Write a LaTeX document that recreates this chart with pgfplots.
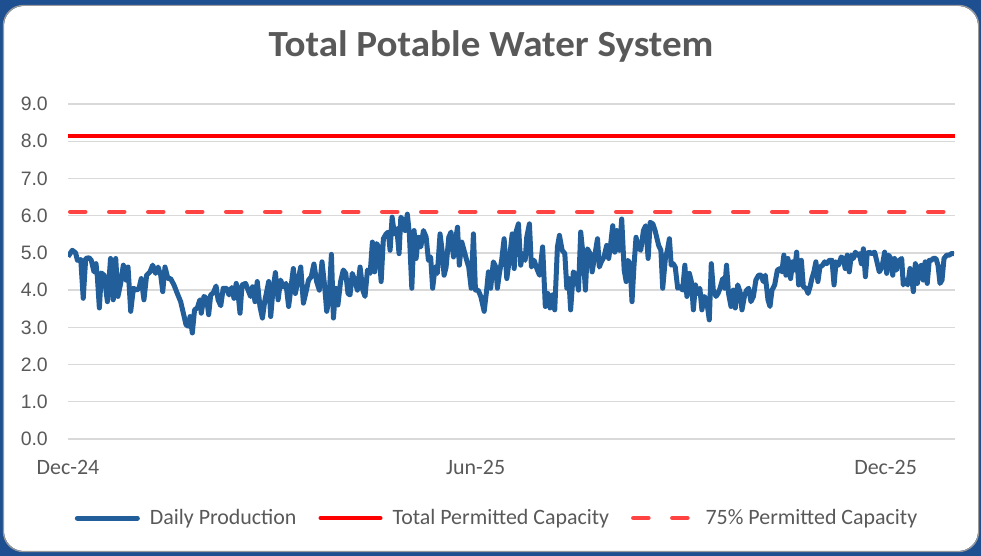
\documentclass[border=0pt]{standalone}
\usepackage{fontspec}
\setmainfont{Carlito}
\newfontfamily\yfont{Liberation Sans}
\newfontfamily\titlefont[FakeStretch=1.06]{Carlito}
\usepackage{pgfplots}
\pgfplotsset{compat=1.18}
\definecolor{bgblue}{HTML}{1E4F91}
\definecolor{lineblue}{HTML}{225E9A}
\definecolor{textgray}{HTML}{595959}
\definecolor{gridgray}{HTML}{D9D9D9}
\definecolor{dashred}{HTML}{FF4343}
\begin{document}
\begin{tikzpicture}
\useasboundingbox (0,0) rectangle (981bp,556bp);
\fill[bgblue] (0,0) rectangle (981bp,556bp);
\fill[white, rounded corners=20bp] (4bp,5bp) rectangle (978bp,550bp);
\draw[gray!80, line width=1.2bp, rounded corners=20bp] (3.4bp,4.4bp) rectangle (978.6bp,550.6bp);
\node[font=\titlefont\bfseries\fontsize{37}{42}\selectfont, text=textgray, anchor=base] at (491bp,499bp) {Total Potable Water System};
\begin{axis}[
  at={(68bp,117bp)}, anchor=south west, scale only axis,
  width=887bp, height=335bp,
  xmin=0, xmax=396, ymin=0, ymax=9,
  axis line style={draw=none},
  major tick length=0pt,
  ytick={0,1,2,3,4,5,6,7,8,9},
  yticklabels={0.0,1.0,2.0,3.0,4.0,5.0,6.0,7.0,8.0,9.0},
  xtick={0,182,365},
  xticklabels={Dec-24,Jun-25,Dec-25},
  ymajorgrids, grid style={color=gridgray, line width=1.3bp},
  y tick label style={font=\yfont\fontsize{19.5}{21}\selectfont, text=textgray, anchor=east, inner sep=0pt, xshift=-20bp},
  x tick label style={font=\fontsize{22}{24}\selectfont, text=textgray, anchor=north, inner sep=0pt, yshift=-21bp},
  legend image code/.code={\draw[#1, line cap=round] (0bp,0bp) -- (60bp,0bp);},
  legend style={at={(axis description cs:0.4837,-0.236)}, anchor=center, draw=none, fill=none,
    font=\fontsize{22}{24}\selectfont, text=textgray, inner sep=0pt,
    /tikz/every odd column/.append style={column sep=8bp},
    /tikz/every even column/.append style={column sep=20bp}},
  legend columns=3, legend cell align=left,
]
\addplot[lineblue, line width=5bp, line join=round] coordinates {
(0,4.90)(0.9,4.98)(1.9,5.07)(3.4,5.00)(4.2,4.80)(5.7,4.82)(6.8,3.78)(7.9,4.85)(9.4,4.87)(10.4,4.80)(11.6,4.49)(12.5,4.71)(13.1,4.36)(14.0,3.52)(14.9,4.46)(16.1,4.40)(17.6,3.69)(19.0,4.85)(20.2,3.74)(21.3,4.85)(22.3,3.83)(23.5,4.18)(24.7,4.67)(25.9,4.27)(26.8,4.62)(28.0,3.43)(29.2,4.05)(30.7,4.00)(31.7,4.05)(32.7,4.31)(33.9,3.74)(35.1,4.40)(36.6,4.49)(37.8,4.67)(39.1,4.45)(40.2,4.62)(41.4,4.40)(42.3,3.96)(43.3,4.62)(44.6,4.31)(45.8,4.31)(47.3,4.14)(48.8,3.91)(50.3,3.69)(51.5,3.38)(52.7,3.07)(53.6,3.03)(54.5,3.29)(55.5,2.85)(56.5,3.47)(57.7,3.52)(58.9,3.74)(59.5,3.38)(60.7,3.83)(61.9,3.78)(62.8,3.34)(63.7,3.87)(64.9,3.93)(66.1,4.11)(67.0,3.74)(68.2,3.58)(69.3,4.05)(70.8,4.05)(71.9,3.87)(73.1,4.07)(74.1,3.78)(75.1,4.18)(76.2,3.74)(76.8,3.38)(77.7,4.14)(79.3,4.18)(80.4,4.00)(81.5,3.83)(82.4,4.09)(83.5,3.69)(84.5,4.23)(85.7,3.56)(86.8,3.25)(87.8,3.69)(88.7,3.96)(89.6,4.23)(90.5,3.29)(91.5,4.00)(92.6,4.47)(93.8,3.74)(94.9,4.27)(96.1,4.09)(97.3,4.18)(98.5,3.56)(99.4,4.00)(100.6,4.58)(101.5,3.91)(102.7,4.27)(103.9,4.62)(105.1,3.65)(106.3,3.96)(107.4,4.27)(108.6,4.36)(109.8,4.70)(111.0,4.23)(112.2,4.00)(113.4,4.76)(114.6,4.09)(115.5,3.43)(116.5,3.74)(117.6,4.96)(118.5,3.25)(119.5,4.05)(120.5,3.60)(121.7,4.23)(122.9,4.54)(124.0,4.45)(125.0,3.91)(125.9,3.87)(126.9,4.45)(128.0,4.27)(129.2,4.00)
(130.4,4.62)(131.6,4.00)(132.6,3.83)(133.7,4.54)(134.9,4.45)(135.9,5.29)(136.9,4.49)(137.8,5.25)(138.7,5.16)(139.8,4.23)(140.8,5.38)(142.0,5.51)(143.0,5.56)(143.8,5.07)(144.7,5.96)(145.7,5.51)(146.8,5.65)(147.8,4.98)(148.6,5.96)(149.7,5.87)(150.5,5.60)(151.5,6.04)(152.4,5.51)(153.5,4.05)(154.5,5.60)(155.4,4.85)(156.4,5.42)(157.5,5.16)(158.7,5.60)(159.9,5.42)(160.9,4.80)(161.9,4.89)(162.8,4.05)(163.9,4.62)(164.9,4.45)(166.1,5.51)(167.0,5.07)(167.9,4.40)(168.8,4.62)(170.0,5.42)(171.0,5.56)(172.1,4.89)(173.0,5.33)(173.9,5.69)(174.7,4.67)(175.8,5.29)(176.8,5.07)(178.0,4.80)(178.9,4.62)(180.0,4.05)(181.0,5.51)(181.9,4.00)(183.1,4.00)(184.3,3.83)(185.8,3.43)(186.9,4.00)(187.7,4.49)(188.7,4.05)(189.9,4.76)(191.0,4.62)(191.7,4.05)(192.6,4.45)(193.6,4.80)(194.7,5.38)(195.9,4.31)(197.1,4.85)(198.3,5.51)(199.2,4.58)(200.0,5.56)(201.1,5.78)(202.1,4.67)(203.0,4.98)(204.1,4.80)(204.8,5.42)(206.0,5.78)(206.9,4.62)(208.1,4.80)(209.3,4.58)(210.5,4.40)(211.9,5.16)(213.1,3.56)(214.2,3.91)(215.2,3.52)(216.3,3.87)(217.3,3.47)(218.5,5.16)(219.4,5.47)(220.6,5.07)(221.8,4.98)(222.7,4.05)(223.6,4.31)(224.4,3.47)(225.6,4.49)(226.8,4.40)(227.9,4.00)(228.9,5.56)(230.1,4.85)(231.0,4.00)(231.9,5.11)(233.1,4.98)(234.0,4.49)(235.2,4.94)(236.4,5.38)(237.2,4.62)(238.1,4.76)(239.3,4.89)(240.5,5.20)(241.4,4.85)(242.3,5.25)(243.2,5.73)(244.1,5.02)(245.0,5.60)(246.2,5.07)(247.2,5.91)(248.3,4.54)(249.2,4.23)(250.0,4.80)(250.9,4.71)(251.8,3.69)(252.7,4.67)(253.6,5.42)(254.5,5.16)(255.7,5.07)(256.9,5.60)(257.9,5.73)(259.0,4.85)(259.9,5.82)(261.1,5.78)(262.1,5.60)
(263.7,5.20)(264.7,5.07)(265.5,4.05)(266.7,4.85)(267.6,5.07)(268.5,5.38)(269.3,4.67)(270.2,4.71)(271.1,4.62)(272.2,4.05)(273.2,4.09)(274.4,4.00)(275.4,4.67)(276.3,3.83)(277.4,4.45)(278.3,4.23)(279.2,3.47)(280.1,4.14)(281.1,3.91)(282.1,4.05)(283.0,3.47)(284.1,3.83)(285.1,3.74)(286.3,3.20)(287.2,4.71)(288.1,4.00)(289.3,3.83)(290.2,3.91)(291.1,4.05)(292.3,4.31)(293.2,4.05)(294.0,4.67)(294.9,3.91)(296.0,3.56)(297.0,4.00)(297.9,3.52)(299.0,4.14)(300.0,3.96)(300.9,3.47)(302.1,3.87)(303.0,4.00)(303.9,4.05)(304.9,3.69)(306.0,3.83)(307.1,4.27)(308.3,4.40)(309.5,4.40)(310.4,4.23)(311.3,4.40)(312.5,3.74)(313.4,3.56)(314.3,4.00)(315.5,4.14)(316.7,4.54)(317.9,4.58)(318.7,4.49)(319.6,4.94)(320.5,4.40)(321.4,4.85)(322.6,4.31)(323.5,4.76)(324.4,4.54)(325.3,5.02)(326.2,4.14)(327.4,4.80)(328.3,4.09)(329.5,4.05)(330.4,3.91)(331.3,4.09)(332.1,4.31)(333.0,4.49)(333.9,4.76)(334.8,4.23)(335.7,4.62)(336.9,4.67)(337.8,4.76)(338.7,4.71)(339.9,4.80)(341.1,4.80)(342.0,4.14)(342.9,4.76)(344.0,4.67)(345.2,4.89)(346.1,4.85)(347.0,4.58)(347.9,4.94)(348.8,4.49)(349.7,4.94)(350.6,4.85)(351.5,5.02)(352.4,4.94)(353.3,4.98)(354.2,4.71)(355.1,5.11)(356.0,4.36)(356.8,4.98)(357.7,5.02)(358.9,4.98)(360.1,5.02)(361.0,4.80)(362.2,4.49)(363.4,4.62)(364.6,5.02)(365.5,4.45)(366.4,4.94)(367.3,4.85)(368.2,4.40)(369.0,4.85)(369.9,4.54)(371.1,4.80)(372.2,4.85)(372.9,4.14)(373.8,4.27)(374.9,4.14)(375.9,4.58)(376.8,4.27)(377.4,3.96)(378.3,4.71)(379.2,4.18)(380.1,4.62)(381.0,4.67)(381.8,4.27)(382.7,4.76)(383.6,4.18)(384.5,4.80)(385.4,4.80)(386.3,4.85)(387.5,4.85)(388.4,4.67)(389.3,4.18)(390.2,4.27)(391.1,4.85)(392.3,4.94)(393.5,4.94)(394.3,4.98)(395.5,4.98)
};
\addlegendentry{Daily Production}
\addplot[red, line width=4bp] coordinates {(0,8.13) (396,8.13)};
\addlegendentry{Total Permitted Capacity}
\addplot[dashred, line width=4.5bp, dash pattern=on 15bp off 24bp, line cap=round] coordinates {(1,6.1) (396,6.1)};
\addlegendentry{75\% Permitted Capacity}
\end{axis}
\end{tikzpicture}
\end{document}
